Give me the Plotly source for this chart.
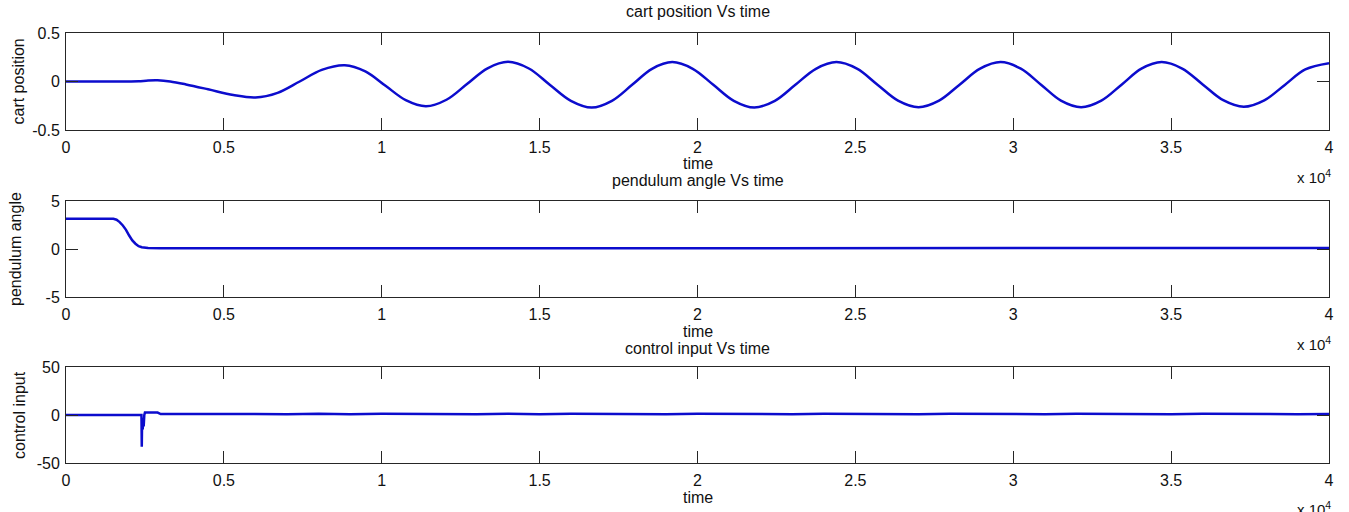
import plotly.graph_objects as go

# ---------------- data (time in units of 1e4) ----------------
cart_t = [0, 0.10, 0.20, 0.23, 0.26, 0.29, 0.33, 0.38, 0.45, 0.53,
          0.60, 0.67, 0.74, 0.81, 0.883, 0.948, 1.012, 1.076, 1.14, 1.205,
          1.27, 1.335, 1.40, 1.466, 1.532, 1.599, 1.665, 1.729, 1.793, 1.856,
          1.92, 1.985, 2.05, 2.115, 2.18, 2.245, 2.31, 2.375, 2.44, 2.505,
          2.57, 2.635, 2.70, 2.765, 2.83, 2.895, 2.96, 3.024, 3.088, 3.151,
          3.215, 3.279, 3.343, 3.406, 3.47, 3.535, 3.60, 3.665, 3.73, 3.795,
          3.86, 3.925, 4.0]
cart_pos = [0, 0, 0, 0.002, 0.01, 0.012, 0.0, -0.03, -0.08, -0.14,
            -0.165, -0.117, 0.0, 0.12, 0.168, 0.104, -0.044, -0.192, -0.255, -0.188,
            -0.026, 0.136, 0.203, 0.134, -0.033, -0.199, -0.268, -0.199, -0.034, 0.131,
            0.200, 0.131, -0.034, -0.199, -0.268, -0.199, -0.034, 0.131, 0.200, 0.132,
            -0.033, -0.197, -0.265, -0.197, -0.033, 0.132, 0.200, 0.132, -0.033, -0.197,
            -0.265, -0.197, -0.033, 0.132, 0.200, 0.133, -0.03, -0.193, -0.26, -0.194,
            -0.035, 0.124, 0.188]

pend_t = [0, 0.05, 0.10, 0.15, 0.16, 0.17, 0.18, 0.19, 0.20, 0.21,
          0.22, 0.23, 0.24, 0.26, 0.30, 0.5, 1.0, 1.5, 2.0, 2.5,
          3.0, 3.5, 4.0]
pend_ang = [3.14, 3.15, 3.14, 3.14, 3.05, 2.8, 2.45, 2.0, 1.4, 0.9,
            0.55, 0.3, 0.18, 0.1, 0.08, 0.08, 0.1, 0.08, 0.1, 0.08,
            0.1, 0.08, 0.1]

ctrl_t = [0, 0.239, 0.240, 0.241, 0.243, 0.244, 0.246, 0.248, 0.25, 0.29,
          0.30, 0.4, 0.5, 0.6, 0.7, 0.8, 0.9, 1.0, 1.1, 1.2,
          1.3, 1.4, 1.5, 1.6, 1.7, 1.8, 1.9, 2.0, 2.1, 2.2,
          2.3, 2.4, 2.5, 2.6, 2.7, 2.8, 2.9, 3.0, 3.1, 3.2,
          3.3, 3.4, 3.5, 3.6, 3.7, 3.8, 3.9, 4.0]
ctrl_u = [0, 0, -33, -5, -15, -3, -12, 0, 2.5, 2.5,
          1.0, 1.1, 0.8, 1.2, 0.9, 1.3, 0.8, 1.2, 0.9, 1.3,
          0.9, 1.2, 0.8, 1.2, 0.9, 1.2, 0.8, 1.3, 0.9, 1.2,
          0.8, 1.2, 0.9, 1.2, 0.8, 1.2, 0.9, 1.3, 0.8, 1.2,
          0.9, 1.2, 0.8, 1.2, 0.9, 1.2, 0.9, 1.0]

x_ticks = [0, 0.5, 1, 1.5, 2, 2.5, 3, 3.5, 4]
x_tick_text = ["0", "0.5", "1", "1.5", "2", "2.5", "3", "3.5", "4"]
y1_ticks = [-0.5, 0, 0.5]
y1_text = ["-0.5", "0", "0.5"]
y2_ticks = [-5, 0, 5]
y2_text = ["-5", "0", "5"]
y3_ticks = [-50, 0, 50]
y3_text = ["-50", "0", "50"]

titles = ["cart position Vs time", "pendulum angle Vs time", "control input Vs time"]
ylabels = ["cart position", "pendulum angle", "control input"]

# ---------------- layout helpers ----------------
W, H = 1349, 512
FONT = "Liberation Sans, Arial, sans-serif"
FS = 16
AX_COL = "#262626"
LINE_COL = "rgb(12,12,205)"

def px(x):
    return x / W

def py(y):
    return 1 - y / H

panels = [(33, 130), (201, 297), (367, 463)]
x_left, x_right = 66, 1329

fig = go.Figure()
fig.add_trace(go.Scatter(x=cart_t, y=cart_pos, mode="lines", line=dict(color=LINE_COL, width=2.5, shape="spline", smoothing=1.0),
                         xaxis="x", yaxis="y", showlegend=False))
fig.add_trace(go.Scatter(x=pend_t, y=pend_ang, mode="lines", line=dict(color=LINE_COL, width=2.5),
                         xaxis="x2", yaxis="y2", showlegend=False))
fig.add_trace(go.Scatter(x=ctrl_t, y=ctrl_u, mode="lines", line=dict(color=LINE_COL, width=2.5),
                         xaxis="x3", yaxis="y3", showlegend=False))

common_x = dict(range=[0, 4], tickvals=x_ticks, ticktext=x_tick_text, ticks="inside", ticklen=12,
                tickcolor=AX_COL, showline=True, linecolor=AX_COL, linewidth=1, mirror="ticks",
                showgrid=False, zeroline=False, domain=[px(x_left), px(x_right)], automargin=False,
                tickfont=dict(family=FONT, size=FS, color="#111"), ticklabelstandoff=3)
common_y = dict(ticks="inside", ticklen=12, tickcolor=AX_COL, showline=True, linecolor=AX_COL,
                linewidth=1, mirror="ticks", showgrid=False, zeroline=False, automargin=False,
                tickfont=dict(family=FONT, size=FS, color="#111"), ticklabelstandoff=2)

layout = dict(template="none", width=W, height=H, margin=dict(l=0, r=0, t=0, b=0, pad=0),
              paper_bgcolor="white", plot_bgcolor="white", showlegend=False)
yinfo = [([-0.5, 0.5], y1_ticks, y1_text), ([-5, 5], y2_ticks, y2_text), ([-50, 50], y3_ticks, y3_text)]
for i, ((top, bot), (rng, tv, tt)) in enumerate(zip(panels, yinfo)):
    sfx = "" if i == 0 else str(i + 1)
    layout["xaxis" + sfx] = dict(common_x, anchor="y" + sfx)
    layout["yaxis" + sfx] = dict(common_y, range=rng, tickvals=tv, ticktext=tt,
                                 domain=[py(bot), py(top)], anchor="x" + sfx)
fig.update_layout(**layout)

ann = []
title_y = [11, 180, 348]
time_y = [163, 331, 497]
exp_y = [176, 343, 508]
ylab_x = [18, 15, 19]
for i, (top, bot) in enumerate(panels):
    ann.append(dict(text=titles[i], x=px((x_left + x_right) / 2), y=py(title_y[i]), xref="paper", yref="paper",
                    showarrow=False, xanchor="center", yanchor="middle", font=dict(family=FONT, size=FS, color="#111")))
    ann.append(dict(text="time", x=px((x_left + x_right) / 2), y=py(time_y[i]), xref="paper", yref="paper",
                    showarrow=False, xanchor="center", yanchor="middle", font=dict(family=FONT, size=FS, color="#111")))
    ann.append(dict(text="x 10<sup>4</sup>", x=px(1333), y=py(exp_y[i]), xref="paper", yref="paper",
                    showarrow=False, xanchor="right", yanchor="middle", font=dict(family=FONT, size=FS - 1, color="#111")))
    ann.append(dict(text=ylabels[i], x=px(ylab_x[i]), y=py((top + bot) / 2), xref="paper", yref="paper",
                    showarrow=False, xanchor="center", yanchor="middle", textangle=-90,
                    font=dict(family=FONT, size=FS, color="#111")))
fig.update_layout(annotations=ann)

fig.write_html("out.html")
